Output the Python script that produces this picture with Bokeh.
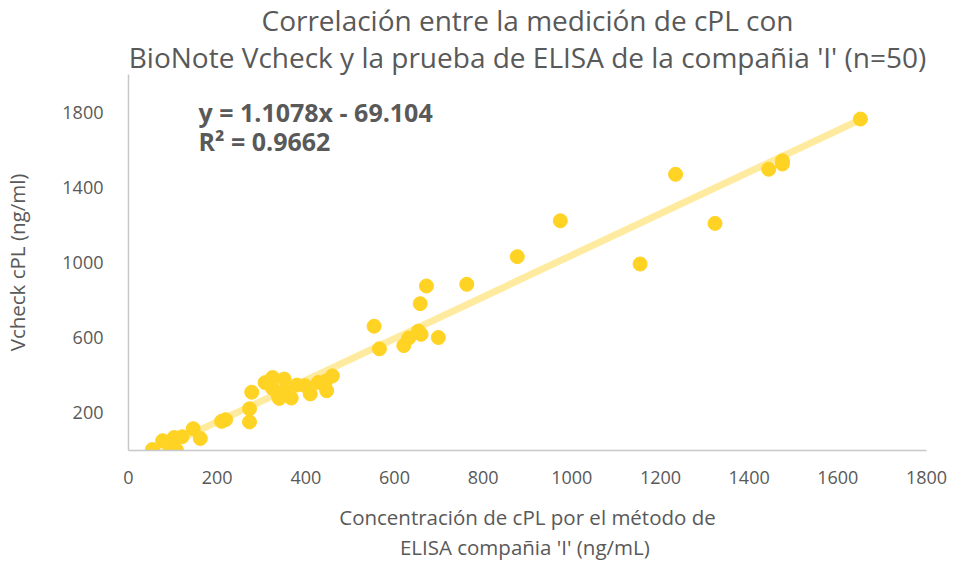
from bokeh.plotting import figure
from bokeh.models import Range1d, FixedTicker, Label, Title
from bokeh.embed import file_html
from bokeh.resources import INLINE

# ELISA company 'I' cPL (ng/mL) vs BioNote Vcheck cPL (ng/ml)
elisa = [54, 77, 94, 108, 103, 121, 146, 162, 210, 219,
         273, 273, 278, 308, 325, 325, 351, 340, 338, 352,
         367, 380, 398, 410, 428, 445, 447, 460, 554, 566,
         621, 632, 654, 660, 658, 672, 699, 763, 877, 974,
         1154, 1234, 1323, 1444, 1475, 1475, 1651]
vcheck = [5, 52, 3, 3, 69, 73, 116, 64, 155, 164,
          152, 222, 310, 361, 388, 330, 380, 277, 290, 318,
          279, 348, 345, 301, 362, 369, 318, 397, 661, 541,
          558, 598, 635, 618, 781, 875, 601, 884, 1031, 1222,
          992, 1469, 1208, 1496, 1541, 1524, 1763]

slope = 1.1078
intercept = -69.104
r2 = 0.9662

x_ticks = [0, 200, 400, 600, 800, 1000, 1200, 1400, 1600, 1800]
y_ticks = [200, 600, 1000, 1400, 1800]

title_line1 = "Correlación entre la medición de cPL con"
title_line2 = "BioNote Vcheck y la prueba de ELISA de la compañia 'I' (n=50)"
x_label = "Concentración de cPL por el método de\nELISA compañia  'I' (ng/mL)"
y_label = "Vcheck cPL (ng/ml)"

GREY = "#595959"
FONT = "Open Sans"

p = figure(width=948, height=564, output_backend="svg", toolbar_location=None,
           x_range=Range1d(0, 1800), y_range=Range1d(0, 2000),
           min_border_left=126, min_border_right=22, min_border_top=70,
           min_border_bottom=100)
p.title = None
# added nearest-to-plot first
p.add_layout(Title(text=title_line2, align="center", text_font=FONT,
                   text_font_size="28px", text_font_style="normal",
                   text_color=GREY, offset=-31, standoff=-3), "above")
p.add_layout(Title(text=title_line1, align="center", text_font=FONT,
                   text_font_size="28px", text_font_style="normal",
                   text_color=GREY, offset=-31, standoff=-3), "above")

p.outline_line_color = None
p.xgrid.visible = False
p.ygrid.visible = False

for ax in (p.xaxis[0], p.yaxis[0]):
    ax.axis_line_color = "#c8c8c8"
    ax.axis_line_width = 1.5
    ax.major_tick_line_color = None
    ax.minor_tick_line_color = None
    ax.major_tick_in = 0
    ax.major_tick_out = 0
    ax.major_label_text_font = FONT
    ax.major_label_text_font_size = "18px"
    ax.major_label_text_color = GREY
    ax.axis_label_text_font = FONT
    ax.axis_label_text_font_size = "20.5px"
    ax.axis_label_text_font_style = "normal"
    ax.axis_label_text_color = GREY

p.xaxis[0].ticker = FixedTicker(ticks=x_ticks)
p.yaxis[0].ticker = FixedTicker(ticks=y_ticks)
p.xaxis[0].major_label_standoff = 20
p.yaxis[0].major_label_standoff = 25
p.xaxis[0].axis_label = x_label
p.xaxis[0].axis_label_standoff = 16
p.xaxis[0].axis_label_text_line_height = 1.1
p.yaxis[0].axis_label = y_label
p.yaxis[0].axis_label_standoff = 28

# trend line across data range
x0, x1 = min(elisa), max(elisa)
p.line([x0, x1], [slope * x0 + intercept, slope * x1 + intercept],
       line_color="#FFEBA0", line_width=7)

p.scatter(elisa, vcheck, size=14, fill_color="#FFD324", line_color="#FFD324")

p.add_layout(Label(x=70, y=339, x_units="screen", y_units="screen",
                   text=f"y = {slope}x - {abs(intercept)}", text_font=FONT,
                   text_font_size="25px", text_font_style="bold",
                   text_color=GREY, text_baseline="middle"))
p.add_layout(Label(x=70, y=310, x_units="screen", y_units="screen",
                   text=f"R² = {r2}", text_font=FONT,
                   text_font_size="25px", text_font_style="bold",
                   text_color=GREY, text_baseline="middle"))

open("out.html", "w").write(file_html(p, INLINE))
